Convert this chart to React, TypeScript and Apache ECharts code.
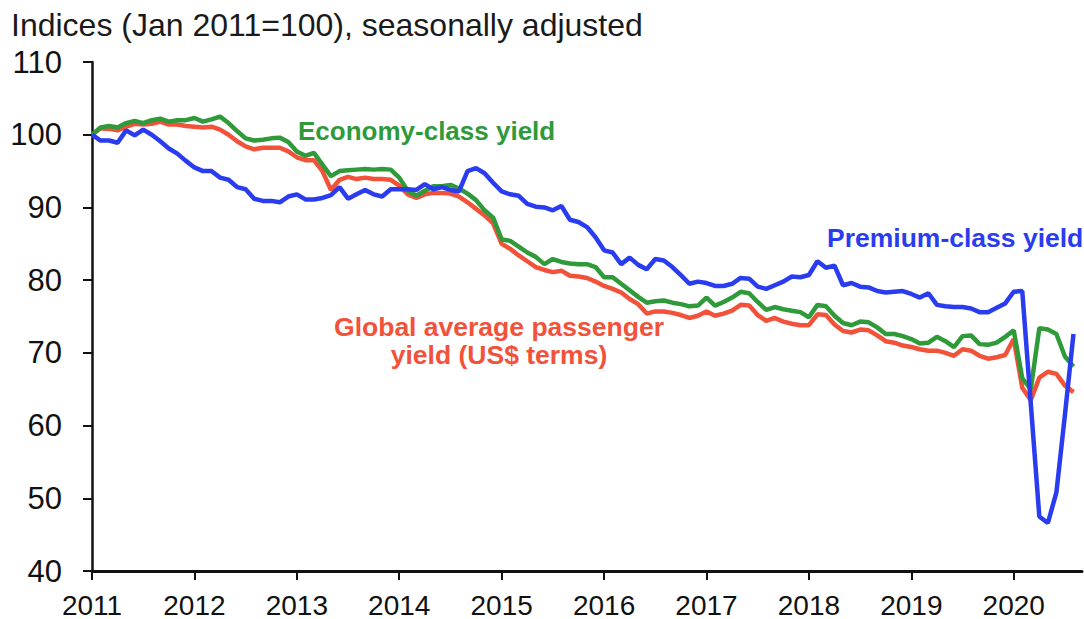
import React, { useEffect, useRef } from "react";
import * as echarts from "echarts";

// Months since Jan 2011 (0 = Jan 2011)
const yearTickMonths = [0, 12, 24, 36, 48, 60, 72, 84, 96, 108];
const firstYear = 2011;

// Premium-class yield (blue), monthly Jan 2011 - Aug 2020
const premium = [
  100, 99.2, 99.2, 98.9, 100.6, 99.9, 100.7, 100.0, 99.1, 98.1, 97.4, 96.4,
  95.5, 95.0, 95.0, 94.1, 93.8, 92.8, 92.5, 91.2, 90.9, 90.9, 90.7, 91.5,
  91.8, 91.1, 91.1, 91.3, 91.7, 92.8, 91.2, 91.8, 92.4, 91.8, 91.5, 92.5,
  92.5, 92.5, 92.4, 93.2, 92.5, 92.8, 92.4, 92.2, 95.0, 95.4, 94.7, 93.4,
  92.2, 91.8, 91.6, 90.5, 90.1, 90.0, 89.6, 90.2, 88.3, 88.0, 87.3, 85.9,
  84.1, 83.8, 82.2, 83.1, 82.1, 81.5, 82.9, 82.7, 81.8, 80.7, 79.5, 79.8,
  79.6, 79.2, 79.2, 79.5, 80.3, 80.2, 79.1, 78.8, 79.3, 79.8, 80.5, 80.4,
  80.7, 82.6, 81.7, 82.0, 79.3, 79.6, 79.1, 79.0, 78.5, 78.3, 78.4, 78.5,
  78.1, 77.6, 78.2, 76.6, 76.4, 76.3, 76.3, 76.1, 75.6, 75.6, 76.2, 76.8,
  78.4, 78.5, 63.0, 47.5, 46.6, 50.8, 61.5, 72.6,
];

// Economy-class yield (green)
const economy = [
  100, 101.0, 101.2, 101.0, 101.6, 101.9, 101.6, 102.0, 102.2, 101.8, 102.0, 102.0,
  102.3, 101.8, 102.1, 102.5, 101.6, 100.5, 99.5, 99.2, 99.3, 99.5, 99.6, 99.0,
  97.7, 97.1, 97.5, 95.9, 94.3, 95.0, 95.1, 95.2, 95.3, 95.2, 95.3, 95.2,
  94.1, 92.3, 91.6, 92.3, 92.9, 92.9, 93.1, 92.6, 91.9, 91.0, 89.6, 88.6,
  85.6, 85.4, 84.6, 83.8, 83.2, 82.2, 82.9, 82.5, 82.3, 82.2, 82.2, 81.8,
  80.4, 80.4, 79.5, 78.6, 77.7, 76.9, 77.1, 77.2, 76.9, 76.7, 76.4, 76.5,
  77.6, 76.5, 77.0, 77.6, 78.4, 78.2, 77.0, 75.9, 76.3, 76.0, 75.8, 75.6,
  74.9, 76.6, 76.4, 75.1, 74.1, 73.8, 74.3, 74.2, 73.5, 72.6, 72.6, 72.3,
  71.9, 71.3, 71.4, 72.2, 71.6, 70.8, 72.3, 72.4, 71.2, 71.1, 71.4, 72.2,
  73.1, 66.5, 65.0, 73.4, 73.2, 72.6, 69.5, 68.1,
];

// Global average passenger yield, US$ terms (red)
const globalAvg = [
  100, 100.9, 100.8, 100.6, 101.1, 101.5, 101.4, 101.5, 101.8, 101.4, 101.4, 101.2,
  101.1, 101.0, 101.1, 100.7, 100.0, 99.1, 98.4, 98.0, 98.2, 98.2, 98.2, 97.7,
  96.9, 96.5, 96.5, 95.0, 92.4, 93.8, 94.2, 93.9, 94.1, 93.9, 93.9, 93.8,
  93.0, 91.8, 91.3, 91.8, 92.0, 92.0, 91.9, 91.5, 90.7, 89.8, 88.9, 87.8,
  85.0, 84.3, 83.4, 82.6, 81.8, 81.4, 81.1, 81.3, 80.6, 80.5, 80.3, 79.8,
  79.2, 78.8, 78.3, 77.4, 76.7, 75.4, 75.7, 75.7, 75.5, 75.2, 74.8, 75.1,
  75.7, 75.1, 75.4, 75.8, 76.6, 76.5, 75.2, 74.4, 74.8, 74.3, 74.0, 73.8,
  73.8, 75.3, 75.2, 73.9, 73.0, 72.8, 73.2, 73.1, 72.4, 71.6, 71.4, 71.0,
  70.8, 70.5, 70.3, 70.3, 70.0, 69.6, 70.5, 70.3, 69.6, 69.2, 69.4, 69.7,
  71.9, 65.2, 63.5, 66.6, 67.4, 67.1, 65.5, 64.6,
];

const titleText = "Indices (Jan 2011=100), seasonally adjusted";
const economyLabel = "Economy-class yield";
const premiumLabel = "Premium-class yield";
const globalLabel = "Global average passenger\nyield (US$ terms)";

const BLUE = "#2a3cf0";
const GREEN = "#2f9a3a";
const RED = "#f2513a";
const FONT = "'Liberation Sans', Arial, sans-serif";

const pairs = (arr: number[]) => arr.map((v, i) => [i, v]);

export default function App() {
  const ref = useRef<HTMLDivElement>(null);
  useEffect(() => {
    document.body.style.margin = "0";
    if (!ref.current) return;
    const chart = echarts.init(ref.current, null, { renderer: "svg" });
    chart.setOption({
      animation: false,
      backgroundColor: "#ffffff",
      title: {
        text: titleText,
        left: 6,
        top: 4,
        textStyle: { fontFamily: FONT, fontSize: 32, fontWeight: "normal", color: "#1a1a1a" },
      },
      grid: { left: 92, right: 2, top: 62, bottom: 46, containLabel: false },
      xAxis: {
        type: "value",
        min: 0,
        max: 116,
        interval: 12,
        splitLine: { show: false },
        axisLine: { show: true, lineStyle: { color: "#111", width: 3 } },
        axisTick: {
          show: true,
          length: 9,
          customValues: yearTickMonths,
          lineStyle: { color: "#111", width: 2 },
        },
        axisLabel: {
          customValues: yearTickMonths,
          formatter: (v: number) => String(firstYear + Math.round(v / 12)),
          fontFamily: FONT,
          fontSize: 28,
          color: "#111",
          margin: 20,
        },
      },
      yAxis: {
        type: "value",
        min: 40,
        max: 110,
        interval: 10,
        splitLine: { show: false },
        axisLine: { show: true, lineStyle: { color: "#111", width: 2.5 } },
        axisTick: { show: true, length: 9, lineStyle: { color: "#111", width: 2 } },
        axisLabel: { fontFamily: FONT, fontSize: 31, color: "#111", margin: 30 },
      },
      series: [
        {
          name: "Global average passenger yield (US$ terms)",
          type: "line",
          data: pairs(globalAvg),
          showSymbol: false,
          lineStyle: { color: RED, width: 4.5 },
          itemStyle: { color: RED },
        },
        {
          name: "Economy-class yield",
          type: "line",
          data: pairs(economy),
          showSymbol: false,
          lineStyle: { color: GREEN, width: 4.5 },
          itemStyle: { color: GREEN },
        },
        {
          name: "Premium-class yield",
          type: "line",
          data: pairs(premium),
          showSymbol: false,
          lineStyle: { color: BLUE, width: 4.5 },
          itemStyle: { color: BLUE },
        },
      ],
      graphic: [
        {
          type: "text",
          x: 298,
          y: 131,
          style: {
            text: economyLabel,
            fill: GREEN,
            font: `bold 26px ${FONT}`,
            textAlign: "left",
            textVerticalAlign: "middle",
          },
        },
        {
          type: "text",
          x: 827,
          y: 238,
          style: {
            text: premiumLabel,
            fill: BLUE,
            font: `bold 26.5px ${FONT}`,
            textAlign: "left",
            textVerticalAlign: "middle",
          },
        },
        {
          type: "text",
          x: 499,
          y: 341,
          style: {
            text: globalLabel,
            fill: RED,
            font: `bold 26.5px ${FONT}`,
            lineHeight: 28,
            textAlign: "center",
            textVerticalAlign: "middle",
          },
        },
      ],
    });
    return () => chart.dispose();
  }, []);
  return <div ref={ref} style={{ width: 1084, height: 619 }} />;
}
